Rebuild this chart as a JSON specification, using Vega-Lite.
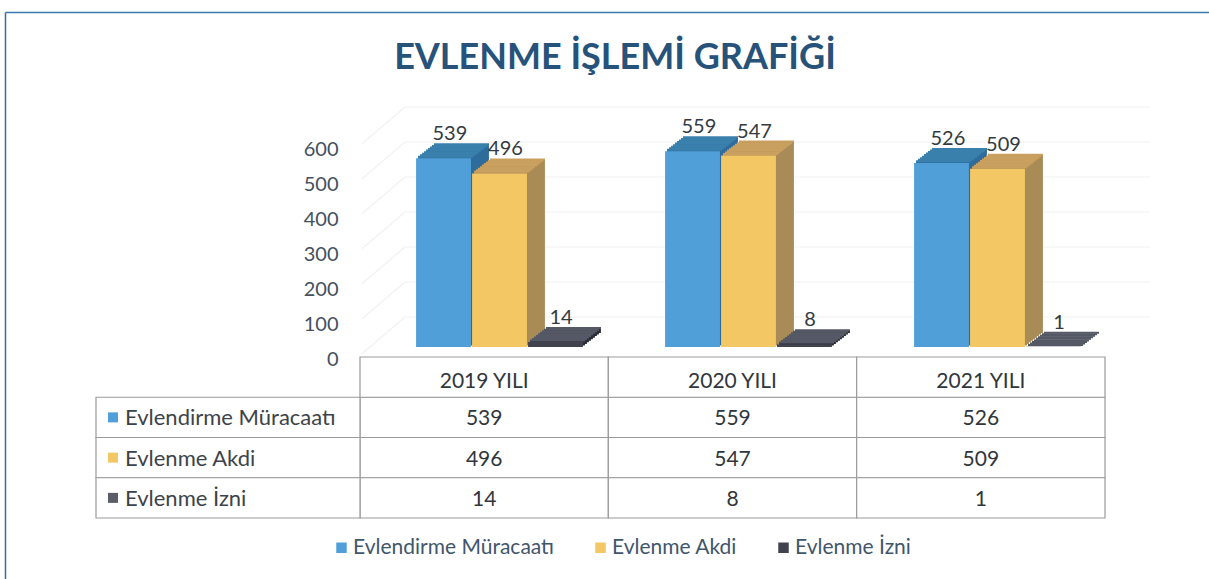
{
"$schema":"https://vega.github.io/schema/vega-lite/v6.json",
"width":1204,"height":567,"padding":{"left":5,"top":12,"right":0,"bottom":0},"autosize":"none","background":"white",
"config":{"view":{"stroke":null},"font":"Lato"},
"title":{"text":"EVLENME İŞLEMİ GRAFİĞİ","anchor":"middle","frame":"group","dx":8,"offset":-65,"fontSize":36,"font":"Lato","fontWeight":"bold","color":"#27527a"},
"datasets":{
"d":[
{"year":"2019 YILI","series":"Evlendirme Müracaatı","value":539},
{"year":"2019 YILI","series":"Evlenme Akdi","value":496},
{"year":"2019 YILI","series":"Evlenme İzni","value":14},
{"year":"2020 YILI","series":"Evlendirme Müracaatı","value":559},
{"year":"2020 YILI","series":"Evlenme Akdi","value":547},
{"year":"2020 YILI","series":"Evlenme İzni","value":8},
{"year":"2021 YILI","series":"Evlendirme Müracaatı","value":526},
{"year":"2021 YILI","series":"Evlenme Akdi","value":509},
{"year":"2021 YILI","series":"Evlenme İzni","value":1}
],
"head":[{"year":"2019 YILI","row":"head"},{"year":"2020 YILI","row":"head"},{"year":"2021 YILI","row":"head"}],
"names":[{"series":"Evlendirme Müracaatı"},{"series":"Evlenme Akdi"},{"series":"Evlenme İzni"}],
"grid":[{"level":0,"front":-105},{"level":100,"front":-5},{"level":200,"front":95},{"level":300,"front":195},{"level":400,"front":295},{"level":500,"front":395},{"level":600,"front":495}]
},
"data":{"name":"d"},
"resolve":{"scale":{"x":"independent","y":"independent","color":"independent"},"axis":{"x":"independent","y":"independent"}},
"layer":[
{"data":{"values":[{"v":0}]},"mark":{"type":"point","opacity":0},
 "encoding":{
 "x":{"field":"v","type":"quantitative","scale":{"domain":[0,1]},"axis":{"orient":"top","domainColor":"#3b78ad","domainWidth":1.5,"ticks":false,"labels":false,"grid":false,"title":null}},
 "y":{"field":"v","type":"quantitative","scale":{"domain":[0,1]},"axis":{"orient":"left","domainColor":"#3b6d9a","domainWidth":1.5,"ticks":false,"labels":false,"grid":false,"title":null}}}},
{"data":{"name":"grid"},"mark":{"type":"rule","color":"#f1f2f3","strokeWidth":1.2},
 "encoding":{
 "x":{"datum":0,"type":"quantitative","scale":{"domain":[0,1],"range":[400,1145]},"axis":null},
 "x2":{"datum":1},
 "y":{"field":"level","type":"quantitative","scale":{"domain":[0,600],"range":[305,95]},"axis":null}}},
{"data":{"name":"grid"},"mark":{"type":"rule","color":"#f1f2f3","strokeWidth":1.2},
 "encoding":{
 "x":{"datum":0,"type":"quantitative","scale":{"domain":[0,1],"range":[357,400]},"axis":null},
 "x2":{"datum":1},
 "y":{"field":"front","type":"quantitative","scale":{"domain":[0,600],"range":[305,95]},"axis":null},
 "y2":{"field":"level"}}},
{"encoding":{
 "x":{"field":"year","type":"nominal","scale":{"type":"band","range":[370,1117],"paddingInner":0.33,"paddingOuter":0.165},"axis":null},
 "xOffset":{"field":"series","type":"nominal","scale":{"domain":["Evlendirme Müracaatı","Evlenme Akdi","Evlenme İzni"],"paddingInner":0.02}},
 "y":{"field":"value","type":"quantitative","scale":{"domain":[0,600],"range":[335,125]},
   "axis":{"orient":"left","offset":-338,"values":[0,100,200,300,400,500,600],"domain":false,"ticks":false,"grid":false,"title":null,"labelOffset":12,"labelPadding":5,"labelFontSize":20,"labelFont":"Lato","labelColor":"#44505e"}}},
 "resolve":{"scale":{"color":"independent","x":"independent","xOffset":"independent"}},
 "layer":[
 {"encoding":{"color":{"field":"series","type":"nominal","legend":null,"scale":{"domain":["Evlendirme Müracaatı","Evlenme Akdi","Evlenme İzni"],"range":["#2f6c9c","#a98b57","#2b2d36"]}}},
  "resolve":{"scale":{"x":"independent","xOffset":"independent"}},
  "layer":[
  {"mark":{"type":"bar","yOffset":-14,"y2Offset":-14},"encoding":{"x":{"field":"year","type":"nominal","scale":{"type":"band","range":[388,1135],"paddingInner":0.33,"paddingOuter":0.165},"axis":null}}},
  {"mark":{"type":"bar","yOffset":-12.4,"y2Offset":-12.4},"encoding":{"x":{"field":"year","type":"nominal","scale":{"type":"band","range":[386,1133],"paddingInner":0.33,"paddingOuter":0.165},"axis":null}}},
  {"mark":{"type":"bar","yOffset":-10.9,"y2Offset":-10.9},"encoding":{"x":{"field":"year","type":"nominal","scale":{"type":"band","range":[384,1131],"paddingInner":0.33,"paddingOuter":0.165},"axis":null}}},
  {"mark":{"type":"bar","yOffset":-9.3,"y2Offset":-9.3},"encoding":{"x":{"field":"year","type":"nominal","scale":{"type":"band","range":[382,1129],"paddingInner":0.33,"paddingOuter":0.165},"axis":null}}},
  {"mark":{"type":"bar","yOffset":-7.8,"y2Offset":-7.8},"encoding":{"x":{"field":"year","type":"nominal","scale":{"type":"band","range":[380,1127],"paddingInner":0.33,"paddingOuter":0.165},"axis":null}}},
  {"mark":{"type":"bar","yOffset":-6.2,"y2Offset":-6.2},"encoding":{"x":{"field":"year","type":"nominal","scale":{"type":"band","range":[378,1125],"paddingInner":0.33,"paddingOuter":0.165},"axis":null}}},
  {"mark":{"type":"bar","yOffset":-4.7,"y2Offset":-4.7},"encoding":{"x":{"field":"year","type":"nominal","scale":{"type":"band","range":[376,1123],"paddingInner":0.33,"paddingOuter":0.165},"axis":null}}},
  {"mark":{"type":"bar","yOffset":-3.1,"y2Offset":-3.1},"encoding":{"x":{"field":"year","type":"nominal","scale":{"type":"band","range":[374,1121],"paddingInner":0.33,"paddingOuter":0.165},"axis":null}}},
  {"mark":{"type":"bar","yOffset":-1.6,"y2Offset":-1.6},"encoding":{"x":{"field":"year","type":"nominal","scale":{"type":"band","range":[372,1119],"paddingInner":0.33,"paddingOuter":0.165},"axis":null}}}
  ]},
 {"encoding":{"color":{"field":"series","type":"nominal","legend":null,"scale":{"domain":["Evlendirme Müracaatı","Evlenme Akdi","Evlenme İzni"],"range":["#3a80ad","#c9a05f","#555966"]}}},
  "resolve":{"scale":{"x":"independent","xOffset":"independent"}},
  "layer":[
  {"mark":{"type":"tick","size":55,"thickness":2,"opacity":1,"yOffset":-14},"encoding":{"x":{"field":"year","type":"nominal","scale":{"type":"band","range":[388,1135],"paddingInner":0.33,"paddingOuter":0.165},"axis":null}}},
  {"mark":{"type":"tick","size":55,"thickness":2,"opacity":1,"yOffset":-12.4},"encoding":{"x":{"field":"year","type":"nominal","scale":{"type":"band","range":[386,1133],"paddingInner":0.33,"paddingOuter":0.165},"axis":null}}},
  {"mark":{"type":"tick","size":55,"thickness":2,"opacity":1,"yOffset":-10.9},"encoding":{"x":{"field":"year","type":"nominal","scale":{"type":"band","range":[384,1131],"paddingInner":0.33,"paddingOuter":0.165},"axis":null}}},
  {"mark":{"type":"tick","size":55,"thickness":2,"opacity":1,"yOffset":-9.3},"encoding":{"x":{"field":"year","type":"nominal","scale":{"type":"band","range":[382,1129],"paddingInner":0.33,"paddingOuter":0.165},"axis":null}}},
  {"mark":{"type":"tick","size":55,"thickness":2,"opacity":1,"yOffset":-7.8},"encoding":{"x":{"field":"year","type":"nominal","scale":{"type":"band","range":[380,1127],"paddingInner":0.33,"paddingOuter":0.165},"axis":null}}},
  {"mark":{"type":"tick","size":55,"thickness":2,"opacity":1,"yOffset":-6.2},"encoding":{"x":{"field":"year","type":"nominal","scale":{"type":"band","range":[378,1125],"paddingInner":0.33,"paddingOuter":0.165},"axis":null}}},
  {"mark":{"type":"tick","size":55,"thickness":2,"opacity":1,"yOffset":-4.7},"encoding":{"x":{"field":"year","type":"nominal","scale":{"type":"band","range":[376,1123],"paddingInner":0.33,"paddingOuter":0.165},"axis":null}}},
  {"mark":{"type":"tick","size":55,"thickness":2,"opacity":1,"yOffset":-3.1},"encoding":{"x":{"field":"year","type":"nominal","scale":{"type":"band","range":[374,1121],"paddingInner":0.33,"paddingOuter":0.165},"axis":null}}},
  {"mark":{"type":"tick","size":55,"thickness":2,"opacity":1,"yOffset":-1.6},"encoding":{"x":{"field":"year","type":"nominal","scale":{"type":"band","range":[372,1119],"paddingInner":0.33,"paddingOuter":0.165},"axis":null}}}
  ]},
 {"mark":{"type":"bar"},
  "encoding":{"color":{"field":"series","type":"nominal","scale":{"domain":["Evlendirme Müracaatı","Evlenme Akdi","Evlenme İzni"],"range":["#519fd9","#f3c763","#40434e"]},
   "legend":{"orient":"none","legendX":326,"legendY":525,"direction":"horizontal","columns":3,"title":null,"symbolType":"square","symbolSize":110,"symbolStrokeWidth":0,"labelOffset":1,"labelFont":"Lato","labelFontSize":21,"labelColor":"#40566b","labelLimit":300,"columnPadding":35}}}},
 {"mark":{"type":"text","align":"center","baseline":"alphabetic","dx":6,"dy":-18,"fontSize":20,"font":"Lato","color":"#333a42"},
  "encoding":{"text":{"field":"value","type":"quantitative"}}}
 ]},
{"encoding":{
 "x":{"field":"year","type":"nominal","scale":{"type":"band","range":[355,1100],"paddingInner":0,"paddingOuter":0},"axis":null},
 "y":{"field":"series","type":"nominal","scale":{"type":"band","domain":["head","Evlendirme Müracaatı","Evlenme Akdi","Evlenme İzni"],"range":[345,506],"paddingInner":0,"paddingOuter":0},"axis":null}},
 "layer":[
 {"mark":{"type":"rect","fill":"white","stroke":"#9b9b9b","strokeWidth":1.2}},
 {"mark":{"type":"text","fontSize":21,"font":"Lato","color":"#30363c","dy":2},"encoding":{"text":{"field":"value","type":"quantitative"}}}
 ]},
{"data":{"name":"head"},
 "encoding":{
 "x":{"field":"year","type":"nominal","scale":{"type":"band","range":[355,1100],"paddingInner":0,"paddingOuter":0},"axis":null},
 "y":{"field":"row","type":"nominal","scale":{"type":"band","domain":["head","Evlendirme Müracaatı","Evlenme Akdi","Evlenme İzni"],"range":[345,506],"paddingInner":0,"paddingOuter":0},"axis":null}},
 "layer":[
 {"mark":{"type":"rect","fill":"white","stroke":"#9b9b9b","strokeWidth":1.2}},
 {"mark":{"type":"text","fontSize":21,"font":"Lato","color":"#30363c","dy":5},"encoding":{"text":{"field":"year","type":"nominal"}}}
 ]},
{"data":{"name":"names"},"mark":{"type":"rect","fill":"white","stroke":"#9b9b9b","strokeWidth":1.2},
 "encoding":{
 "x":{"datum":"h","type":"nominal","scale":{"type":"band","domain":["h"],"range":[91,355],"paddingInner":0,"paddingOuter":0},"axis":null},
 "y":{"field":"series","type":"nominal","scale":{"type":"band","domain":["head","Evlendirme Müracaatı","Evlenme Akdi","Evlenme İzni"],"range":[345,506],"paddingInner":0,"paddingOuter":0},"axis":null}}},
{"data":{"name":"names"},"mark":{"type":"point","shape":"square","filled":true,"size":100,"opacity":1},
 "encoding":{
 "x":{"datum":0,"type":"quantitative","scale":{"domain":[0,1],"range":[108,120]},"axis":null},
 "y":{"field":"series","type":"nominal","scale":{"type":"band","domain":["head","Evlendirme Müracaatı","Evlenme Akdi","Evlenme İzni"],"range":[345,506],"paddingInner":0,"paddingOuter":0},"axis":null},
 "color":{"field":"series","type":"nominal","legend":null,"scale":{"domain":["Evlendirme Müracaatı","Evlenme Akdi","Evlenme İzni"],"range":["#519fd9","#f3c763","#5a5d68"]}}}},
{"data":{"name":"names"},"mark":{"type":"text","align":"left","fontSize":22,"font":"Lato","color":"#3d4349","dy":1},
 "encoding":{
 "x":{"datum":1,"type":"quantitative","scale":{"domain":[0,1],"range":[108,120]},"axis":null},
 "y":{"field":"series","type":"nominal","scale":{"type":"band","domain":["head","Evlendirme Müracaatı","Evlenme Akdi","Evlenme İzni"],"range":[345,506],"paddingInner":0,"paddingOuter":0},"axis":null},
 "text":{"field":"series","type":"nominal"}}}
]
}
